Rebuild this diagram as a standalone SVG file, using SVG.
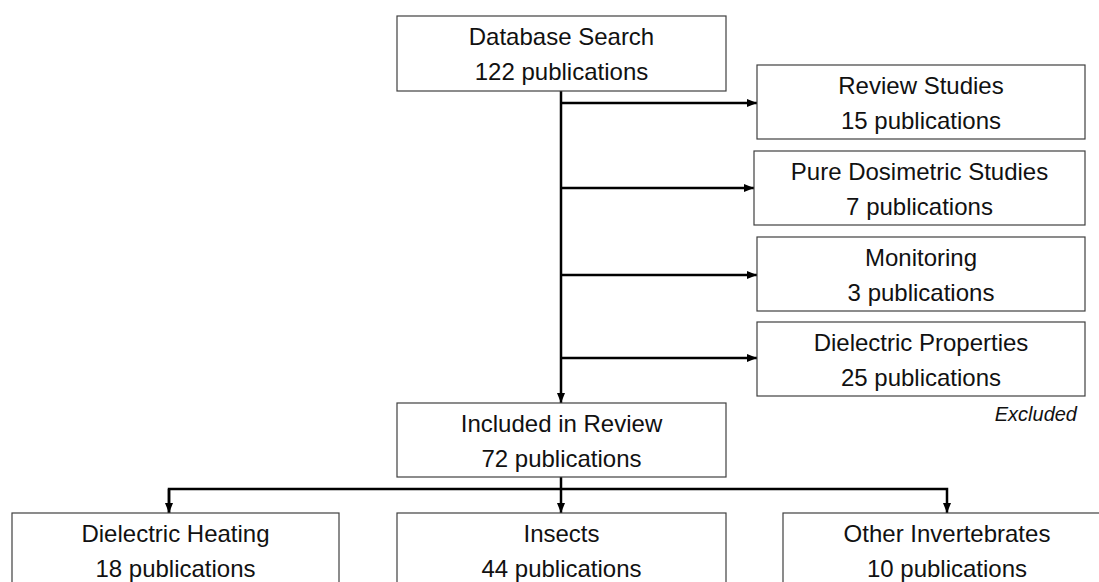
<svg xmlns="http://www.w3.org/2000/svg" width="1099" height="582" viewBox="0 0 1099 582">
<style>
.box{fill:#fff;stroke:#404040;stroke-width:1.2}
.t{font-family:"Liberation Sans",Arial,sans-serif;font-size:24px;fill:#111;text-anchor:middle}
.ex{font-family:"Liberation Sans",Arial,sans-serif;font-size:20px;font-style:italic;fill:#111;text-anchor:end}
.c{fill:none;stroke:#000;stroke-width:2.5}
</style>
<defs>
<marker id="ah" markerUnits="userSpaceOnUse" markerWidth="10" markerHeight="10" viewBox="0 0 10 10" refX="10" refY="5" orient="auto">
<path d="M0,1 L10,5 L0,9 Z" fill="#000"/>
</marker>
</defs>
<rect width="1099" height="582" fill="#fff"/>
<g id="connectors">
<line class="c" x1="561" y1="91" x2="561" y2="403" marker-end="url(#ah)"/>
<line class="c" x1="561" y1="103" x2="757" y2="103" marker-end="url(#ah)"/>
<line class="c" x1="561" y1="188" x2="754" y2="188" marker-end="url(#ah)"/>
<line class="c" x1="561" y1="275" x2="757" y2="275" marker-end="url(#ah)"/>
<line class="c" x1="561" y1="358" x2="757" y2="358" marker-end="url(#ah)"/>
<line class="c" x1="561" y1="477" x2="561" y2="513" marker-end="url(#ah)"/>
<polyline class="c" points="169,513 169,489 947,489 947,513" marker-end="url(#ah)"/>
<line class="c" x1="169" y1="489" x2="169" y2="513" marker-end="url(#ah)"/>
</g>
<g id="database-search">
<rect class="box" x="397" y="16" width="329" height="75"/>
<text class="t" x="561.5" y="45">Database Search</text>
<text class="t" x="561.5" y="80">122 publications</text>
</g>
<g id="review-studies">
<rect class="box" x="757" y="65" width="328" height="74"/>
<text class="t" x="921" y="94">Review Studies</text>
<text class="t" x="921" y="129">15 publications</text>
</g>
<g id="pure-dosimetric">
<rect class="box" x="754" y="151" width="331" height="74"/>
<text class="t" x="919.5" y="180">Pure Dosimetric Studies</text>
<text class="t" x="919.5" y="215">7 publications</text>
</g>
<g id="monitoring">
<rect class="box" x="757" y="237" width="328" height="74"/>
<text class="t" x="921" y="266">Monitoring</text>
<text class="t" x="921" y="301">3 publications</text>
</g>
<g id="dielectric-properties">
<rect class="box" x="757" y="322" width="328" height="74"/>
<text class="t" x="921" y="351">Dielectric Properties</text>
<text class="t" x="921" y="386">25 publications</text>
</g>
<g id="excluded-label">
<text class="ex" x="1077" y="421">Excluded</text>
</g>
<g id="included">
<rect class="box" x="397" y="403" width="329" height="74"/>
<text class="t" x="561.5" y="432">Included in Review</text>
<text class="t" x="561.5" y="467">72 publications</text>
</g>
<g id="dielectric-heating">
<rect class="box" x="12" y="513" width="327" height="80"/>
<text class="t" x="175.5" y="542">Dielectric Heating</text>
<text class="t" x="175.5" y="577">18 publications</text>
</g>
<g id="insects">
<rect class="box" x="397" y="513" width="329" height="80"/>
<text class="t" x="561.5" y="542">Insects</text>
<text class="t" x="561.5" y="577">44 publications</text>
</g>
<g id="other-invertebrates">
<rect class="box" x="783" y="513" width="330" height="80"/>
<text class="t" x="947" y="542">Other Invertebrates</text>
<text class="t" x="947" y="577">10 publications</text>
</g>
</svg>
